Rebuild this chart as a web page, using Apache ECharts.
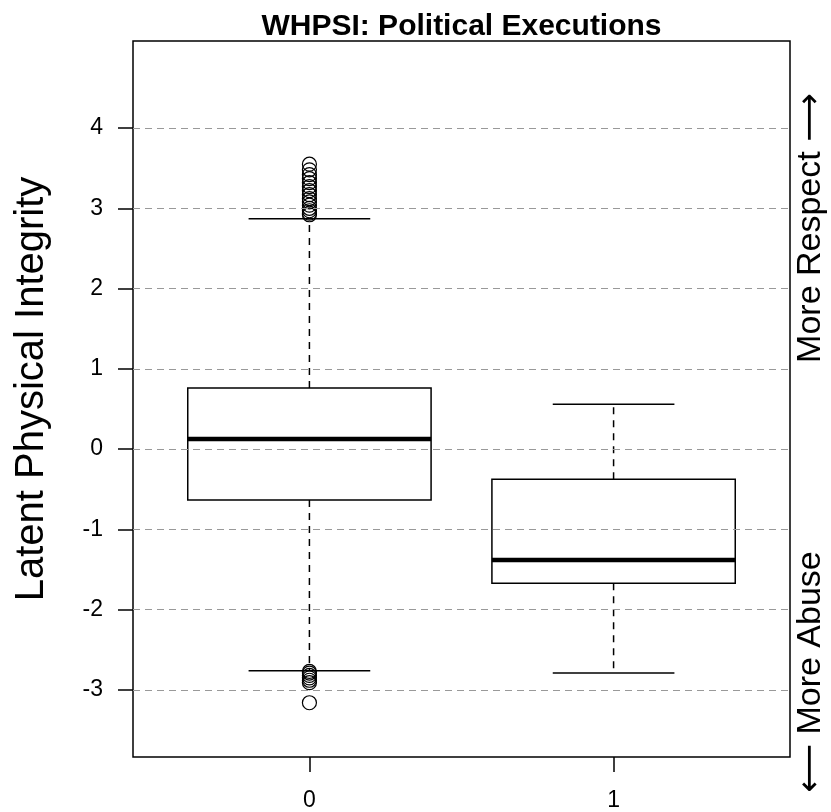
<!DOCTYPE html>
<html><head><meta charset="utf-8">
<script src="https://cdn.jsdelivr.net/npm/echarts@6/dist/echarts.min.js"></script>
<style>html,body{margin:0;padding:0;background:#fff}#c{width:831px;height:812px}</style>
</head><body><div id="c"></div>
<script>
const categories = ['0', '1'];
const lowerWhisker = [-2.76, -2.79];
const q1 = [-0.635, -1.67];
const median = [0.125, -1.38];
const q3 = [0.76, -0.375];
const upperWhisker = [2.87, 0.56];
const outliers0 = [3.55, 3.48, 3.42, 3.37, 3.32, 3.27, 3.22, 3.17, 3.12, 3.08, 3.04, 3.0, 2.97, 2.94, 2.92,
                   -2.77, -2.79, -2.82, -2.85, -2.88, -2.91, -3.16];
const outliers1 = [];
const yTicks = [-3, -2, -1, 0, 1, 2, 3, 4];
const xTicks = [0, 1];

const FONT = '"Liberation Sans", Arial, "DejaVu Sans", sans-serif';
const chart = echarts.init(document.getElementById('c'));

const boxData = categories.map((c, i) => [i, lowerWhisker[i], q1[i], median[i], q3[i], upperWhisker[i]]);
const outlierData = [];
outliers0.forEach(v => outlierData.push([0, v]));
outliers1.forEach(v => outlierData.push([1, v]));

const option = {
  animation: false,
  backgroundColor: '#fff',
  grid: { left: 133, right: 41, top: 41, bottom: 55, show: true, borderColor: '#000', borderWidth: 1.5, backgroundColor: 'transparent' },
  xAxis: {
    type: 'value', min: -0.58, max: 1.58,
    axisLine: { show: false, onZero: false },
    splitLine: { show: false },
    axisTick: { show: true, customValues: xTicks, length: 15, lineStyle: { color: '#000', width: 1.5 } },
    axisLabel: { customValues: xTicks, formatter: v => categories[Math.round(v)], margin: 32, fontSize: 23, color: '#000', fontFamily: FONT }
  },
  yAxis: {
    type: 'value', min: -3.836, max: 5.085,
    axisLine: { show: false, onZero: false },
    splitLine: { show: false },
    axisTick: { show: true, customValues: yTicks, length: 15, lineStyle: { color: '#000', width: 1.5 } },
    axisLabel: { customValues: yTicks, margin: 30, fontSize: 23, color: '#000', fontFamily: FONT }
  },
  graphic: [
    { type: 'text', x: 461.5, y: 27, style: { text: 'WHPSI: Political Executions', fontSize: 30, fontWeight: 'bold', fontFamily: FONT, fill: '#000', textAlign: 'center', textVerticalAlign: 'middle' } },
    { type: 'text', x: 32, y: 389, rotation: Math.PI / 2, style: { text: 'Latent Physical Integrity', fontSize: 40, fontFamily: FONT, fill: '#000', textAlign: 'center', textVerticalAlign: 'middle' } },
    { type: 'text', x: 811, y: 228, rotation: Math.PI / 2, style: { text: 'More Respect \u27F6', fontSize: 34, fontFamily: FONT, fill: '#000', textAlign: 'center', textVerticalAlign: 'middle' } },
    { type: 'text', x: 811, y: 672, rotation: Math.PI / 2, style: { text: '\u27F5 More Abuse', fontSize: 34, fontFamily: FONT, fill: '#000', textAlign: 'center', textVerticalAlign: 'middle' } }
  ],
  series: [
    {
      type: 'custom',
      z: 2,
      data: boxData,
      encode: { x: 0, y: [1, 2, 3, 4, 5] },
      renderItem: function (params, api) {
        const x = api.value(0);
        const pLo = api.coord([x, api.value(1)]);
        const pA = api.coord([x, api.value(2)]);
        const pM = api.coord([x, api.value(3)]);
        const pB = api.coord([x, api.value(4)]);
        const pHi = api.coord([x, api.value(5)]);
        const halfBox = api.size([0.8, 0])[0] / 2;
        const halfCap = halfBox / 2;
        const cx = pM[0];
        const dash = { stroke: '#000', lineWidth: 1.5, lineDash: [7, 6] };
        const solid = { stroke: '#000', lineWidth: 1.5 };
        return {
          type: 'group',
          children: [
            { type: 'line', shape: { x1: cx, y1: pB[1], x2: cx, y2: pHi[1] }, style: dash },
            { type: 'line', shape: { x1: cx, y1: pA[1], x2: cx, y2: pLo[1] }, style: dash },
            { type: 'line', shape: { x1: cx - halfCap, y1: pHi[1], x2: cx + halfCap, y2: pHi[1] }, style: solid },
            { type: 'line', shape: { x1: cx - halfCap, y1: pLo[1], x2: cx + halfCap, y2: pLo[1] }, style: solid },
            { type: 'rect', shape: { x: cx - halfBox, y: pB[1], width: 2 * halfBox, height: pA[1] - pB[1] }, style: { fill: '#fff', stroke: '#000', lineWidth: 1.5 } },
            { type: 'line', shape: { x1: cx - halfBox, y1: pM[1], x2: cx + halfBox, y2: pM[1] }, style: { stroke: '#000', lineWidth: 4.5 } }
          ]
        };
      }
    },
    {
      type: 'scatter',
      z: 3,
      data: outlierData,
      symbol: 'circle',
      symbolSize: 14,
      itemStyle: { color: 'rgba(0,0,0,0)', borderColor: '#000', borderWidth: 1.2, opacity: 1 },
      markLine: {
        silent: true,
        symbol: ['none', 'none'],
        label: { show: false },
        lineStyle: { type: [7, 5], color: '#999', width: 1.2 },
        data: yTicks.map(v => ({ yAxis: v }))
      }
    }
  ]
};
chart.setOption(option);
</script></body></html>
